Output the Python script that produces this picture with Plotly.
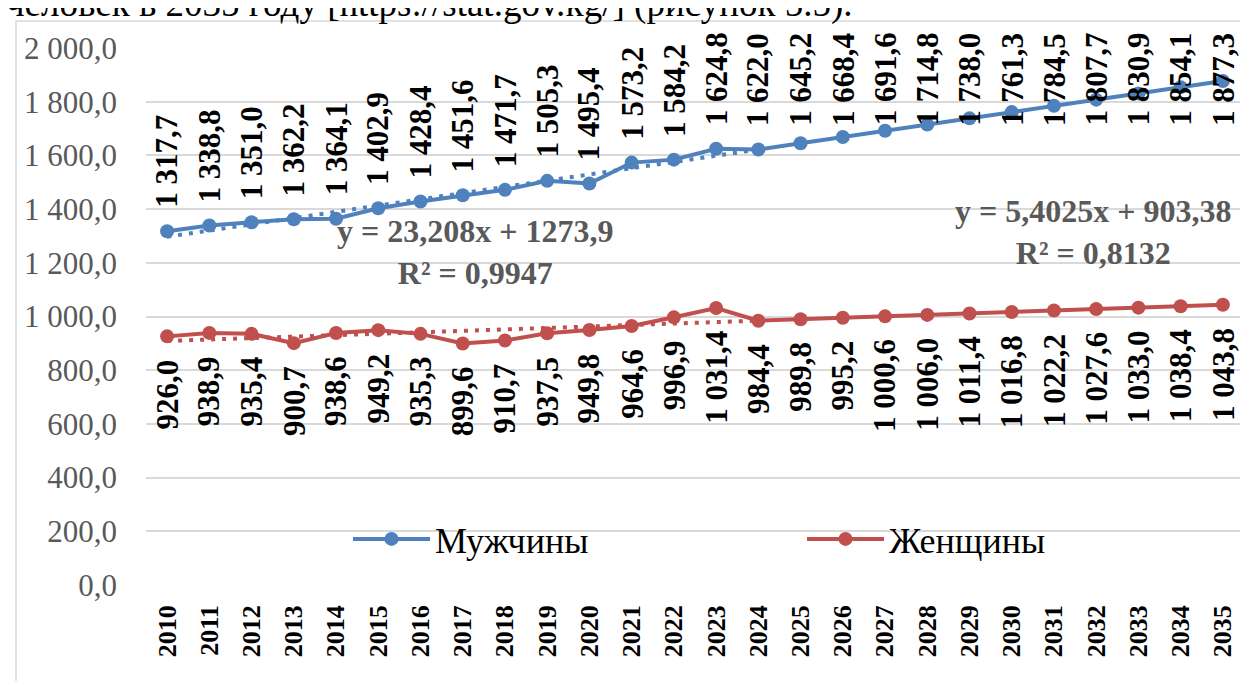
import numpy as np
import plotly.graph_objects as go

years = [str(y) for y in range(2010, 2036)]
men = [1317.7, 1338.8, 1351.0, 1362.2, 1364.1, 1402.9, 1428.4, 1451.6, 1471.7, 1505.3,
       1495.4, 1573.2, 1584.2, 1624.8, 1622.0, 1645.2, 1668.4, 1691.6, 1714.8, 1738.0,
       1761.3, 1784.5, 1807.7, 1830.9, 1854.1, 1877.3]
women = [926.0, 938.9, 935.4, 900.7, 938.6, 949.2, 935.3, 899.6, 910.7, 937.5,
         949.8, 964.6, 996.9, 1031.4, 984.4, 989.8, 995.2, 1000.6, 1006.0, 1011.4,
         1016.8, 1022.2, 1027.6, 1033.0, 1038.4, 1043.8]
series_names = ["Мужчины", "Женщины"]
eq_men = "y = 23,208x + 1273,9<br>R² = 0,9947"
eq_women = "y = 5,4025x + 903,38<br>R² = 0,8132"
caption = "человек в 2035 году [https://stat.gov.kg/] (рисунок 5.5)."

FIT_N = 14     # trend fitted on observed years 2010-2023
TREND_N = 15   # trend drawn through 2024
LABEL_CAP = 1625  # labels of higher points are pushed down to stay inside the chart

BLUE = "#4F81BD"
RED = "#C0504D"
FONT = "Liberation Serif"

def fmt(v):
    return f"{v:,.1f}".replace(",", " ").replace(".", ",")

xs = np.arange(1, len(years) + 1)
fig = go.Figure()

for vals, col in ((men, BLUE), (women, RED)):
    k, b = np.polyfit(xs[:FIT_N], np.array(vals[:FIT_N]), 1)
    fig.add_trace(go.Scatter(
        x=years[:TREND_N], y=k * xs[:TREND_N] + b, mode="lines",
        line=dict(color=col, width=4, dash="4px,7px"),
        showlegend=False, hoverinfo="skip"))

for name, vals, col in ((series_names[0], men, BLUE), (series_names[1], women, RED)):
    fig.add_trace(go.Scatter(
        x=years, y=vals, mode="lines+markers", name=name,
        line=dict(color=col, width=4),
        marker=dict(color=col, size=14, symbol="circle")))

ann = []
for i, v in enumerate(men):
    ann.append(dict(x=i, y=min(v, LABEL_CAP), xref="x", yref="y", text=fmt(v), textangle=-90,
                    showarrow=False, yanchor="bottom", xanchor="center", yshift=21,
                    font=dict(family=FONT, size=31, color="black", weight="bold")))
for i, v in enumerate(women):
    ann.append(dict(x=i, y=v, xref="x", yref="y", text=fmt(v), textangle=-90,
                    showarrow=False, yanchor="top", xanchor="center", yshift=-21,
                    font=dict(family=FONT, size=31, color="black", weight="bold")))

ann.append(dict(x=(467 - 138) / 1098, y=(577 - 244) / 537, xref="x domain", yref="y domain",
                xanchor="center", yanchor="middle",
                text=eq_men, showarrow=False, align="center",
                font=dict(family=FONT, size=32, color="#595959", weight="bold")))
ann.append(dict(x=(1085 - 138) / 1098, y=(577 - 224) / 537, xref="x domain", yref="y domain",
                xanchor="center", yanchor="middle",
                text=eq_women, showarrow=False, align="center",
                font=dict(family=FONT, size=32, color="#595959", weight="bold")))
ann.append(dict(x=(-4 - 138) / 1098, y=1, xref="paper", yref="paper", xanchor="left",
                yanchor="bottom", yshift=21, text=caption, showarrow=False,
                font=dict(family=FONT, size=37, color="black")))

fig.update_layout(
    width=1248, height=681,
    margin=dict(l=138, r=12, t=40, b=104, autoexpand=False),
    paper_bgcolor="white", plot_bgcolor="white",
    separators=", ",
    font=dict(family=FONT),
    annotations=ann,
    shapes=[dict(type="rect", xref="paper", yref="paper",
                 x0=(8 - 138) / 1098, x1=1.3, y0=-0.6, y1=(577 - 13) / 537,
                 line=dict(color="#D9D9D9", width=1.5), layer="below")],
    legend=dict(orientation="h", xanchor="left", yanchor="middle",
                x=(340 - 138) / 1098, y=(577 - 531) / 537,
                bgcolor="rgba(0,0,0,0)", itemwidth=77, entrywidth=362,
                font=dict(family=FONT, size=36, color="black")),
    xaxis=dict(type="category", range=[-0.5, len(years) - 0.5], tickangle=-90,
               showgrid=False, showline=False, ticks="", ticklabelstandoff=14,
               automargin=False,
               tickfont=dict(family=FONT, size=26, color="black", weight="bold")),
    yaxis=dict(range=[0, 2000], dtick=200, tickformat=",.1f", showgrid=True,
               gridcolor="#D9D9D9", gridwidth=1.5, zeroline=False, showline=False,
               ticks="", ticklabelstandoff=28, automargin=False,
               tickfont=dict(family=FONT, size=31, color="#595959")),
)

fig.write_html("out.html")
